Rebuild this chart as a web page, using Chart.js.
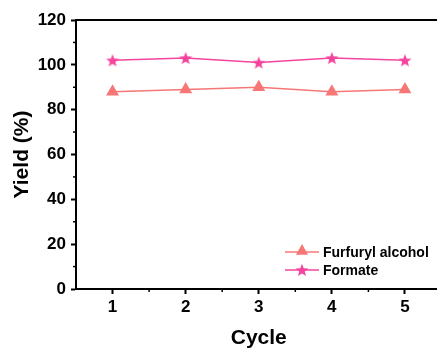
<!DOCTYPE html>
<html>
<head>
<meta charset="utf-8">
<script src="https://cdn.jsdelivr.net/npm/chart.js@4.4.1/dist/chart.umd.min.js"></script>
<style>
  html, body { margin: 0; padding: 0; background: #fff; overflow: hidden; }
  #wrap { width: 437px; height: 350px; overflow: hidden; }
</style>
</head>
<body>
<div id="wrap"><canvas id="chart" width="450" height="350"></canvas></div>
<script>
// Cycles and yields
const cycles = ["1", "2", "3", "4", "5"]
const furfurylAlcohol = [88, 89, 90, 88, 89]
const formate = [102, 103, 101, 103, 102]
const yTicks = [0, 20, 40, 60, 80, 100, 120]

const FONT = "'Liberation Sans', Arial, sans-serif"
const AXIS = "#000"
const C_ALC = "#F77777"
const C_FOR = "#F5449E"

// filled five-point star used as a marker image
function makeStar(color, size) {
  const c = document.createElement("canvas")
  c.width = size
  c.height = size
  const g = c.getContext("2d")
  const cx = size / 2, cy = size / 2 + 0.6
  const ro = size / 2 - 0.2, ri = ro * 0.42
  g.beginPath()
  for (let i = 0; i < 10; i++) {
    const r = i % 2 ? ri : ro
    const a = -Math.PI / 2 + i * Math.PI / 5
    const px = cx + r * Math.cos(a), py = cy + r * Math.sin(a)
    i ? g.lineTo(px, py) : g.moveTo(px, py)
  }
  g.closePath()
  g.fillStyle = color
  g.fill()
  return c
}
const starImg = makeStar(C_FOR, 14)

function drawTriangle(ctx, x, y, r, color) {
  ctx.beginPath()
  ctx.moveTo(x, y - r)
  ctx.lineTo(x + r * 0.87, y + r * 0.55)
  ctx.lineTo(x - r * 0.87, y + r * 0.55)
  ctx.closePath()
  ctx.fillStyle = color
  ctx.fill()
}

// top frame line + minor ticks + legend
const decorations = {
  id: "decorations",
  afterDraw(chart) {
    const { ctx, chartArea: a, scales } = chart
    ctx.save()
    ctx.strokeStyle = AXIS
    ctx.lineWidth = 2
    ctx.beginPath()
    ctx.moveTo(a.left - 1, a.top)
    ctx.lineTo(a.right, a.top)
    ctx.stroke()

    // minor ticks
    ctx.lineWidth = 1.5
    const ys = scales.y
    for (let v = 10; v < 120; v += 20) {
      const py = ys.getPixelForValue(v)
      ctx.beginPath()
      ctx.moveTo(a.left, py)
      ctx.lineTo(a.left - 3, py)
      ctx.stroke()
    }
    const xs = scales.x
    for (let i = 0; i < cycles.length; i++) {
      const px = (xs.getPixelForValue(i) + xs.getPixelForValue(i + 1)) / 2
      ctx.beginPath()
      ctx.moveTo(px, a.bottom)
      ctx.lineTo(px, a.bottom + 3)
      ctx.stroke()
    }

    // legend
    const items = [
      { label: "Furfuryl alcohol", color: C_ALC, mark: "tri" },
      { label: "Formate", color: C_FOR, mark: "star" },
    ]
    const lx = a.left + 209
    ctx.font = "bold 14px " + FONT
    ctx.textBaseline = "middle"
    items.forEach((it, i) => {
      const ly = a.top + 232 + i * 18
      ctx.strokeStyle = it.color
      ctx.lineWidth = 1.5
      ctx.beginPath()
      ctx.moveTo(lx, ly)
      ctx.lineTo(lx + 34, ly)
      ctx.stroke()
      if (it.mark === "tri") drawTriangle(ctx, lx + 17, ly - 1, 7, it.color)
      else ctx.drawImage(starImg, lx + 17 - 7, ly - 7)
      ctx.fillStyle = "#000"
      ctx.fillText(it.label, lx + 38, ly + 1)
    })
    ctx.restore()
  },
}

new Chart(document.getElementById("chart"), {
  type: "line",
  data: {
    labels: cycles,
    datasets: [
      {
        label: "Furfuryl alcohol",
        data: furfurylAlcohol,
        borderColor: C_ALC,
        backgroundColor: C_ALC,
        borderWidth: 1.5,
        pointStyle: "triangle",
        pointRadius: 7.5,
        pointBorderWidth: 0,
        tension: 0,
      },
      {
        label: "Formate",
        data: formate,
        borderColor: C_FOR,
        backgroundColor: C_FOR,
        borderWidth: 1.5,
        pointStyle: starImg,
        pointRadius: 7,
        tension: 0,
      },
    ],
  },
  options: {
    responsive: false,
    animation: false,
    layout: { padding: { top: 20, right: 0, left: 0, bottom: 0 } },
    plugins: { legend: { display: false }, tooltip: { enabled: false } },
    scales: {
      x: {
        type: "category",
        offset: true,
        afterFit: (s) => { s.height = 61 },
        grid: { drawOnChartArea: false, offset: false, tickLength: 5, tickWidth: 2, tickColor: AXIS },
        border: { color: AXIS, width: 2 },
        ticks: { color: "#000", padding: 3, font: { family: FONT, size: 17, weight: "bold" } },
        title: {
          display: true,
          text: "Cycle",
          color: "#000",
          padding: { top: 0, bottom: -1 },
          font: { family: FONT, size: 21, weight: "bold" },
        },
      },
      y: {
        min: 0,
        max: 120,
        afterFit: (s) => { s.width = 76 },
        afterBuildTicks: (s) => { s.ticks = yTicks.map((v) => ({ value: v })) },
        grid: { drawOnChartArea: false, tickLength: 5, tickWidth: 2, tickColor: AXIS },
        border: { color: AXIS, width: 2 },
        ticks: { color: "#000", padding: 5, font: { family: FONT, size: 17, weight: "bold" } },
        title: {
          display: true,
          text: "Yield (%)",
          color: "#000",
          padding: { top: 10, bottom: 0 },
          font: { family: FONT, size: 21, weight: "bold" },
        },
      },
    },
  },
  plugins: [decorations],
})
</script>
</body>
</html>
